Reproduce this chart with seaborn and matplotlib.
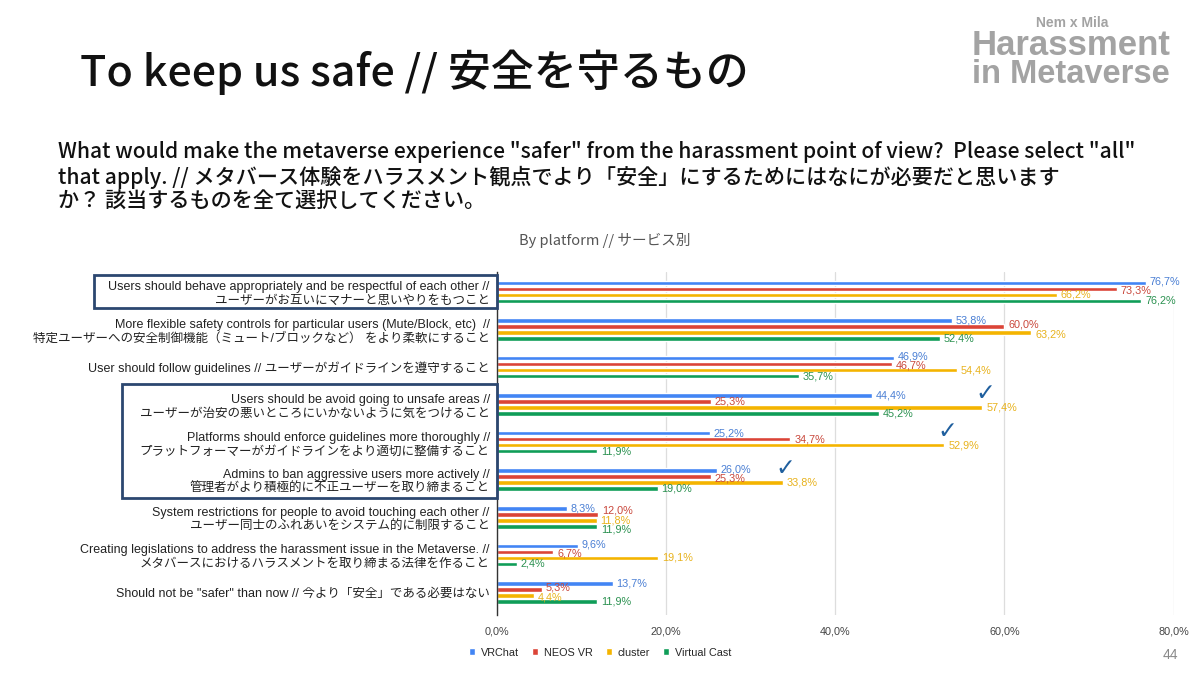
import numpy as np
import pandas as pd
import matplotlib.pyplot as plt
from matplotlib.patches import Rectangle
import seaborn as sns

# data
categories = [
    "Users should behave appropriately and be respectful of each other //\nユーザーがお互いにマナーと思いやりをもつこと",
    "More flexible safety controls for particular users (Mute/Block, etc)  //\n特定ユーザーへの安全制御機能（ミュート/ブロックなど） をより柔軟にすること",
    "User should follow guidelines // ユーザーがガイドラインを遵守すること",
    "Users should be avoid going to unsafe areas //\nユーザーが治安の悪いところにいかないように気をつけること",
    "Platforms should enforce guidelines more thoroughly //\nプラットフォーマーがガイドラインをより適切に整備すること",
    "Admins to ban aggressive users more actively //\n管理者がより積極的に不正ユーザーを取り締まること",
    "System restrictions for people to avoid touching each other //\nユーザー同士のふれあいをシステム的に制限すること",
    "Creating legislations to address the harassment issue in the Metaverse. //\nメタバースにおけるハラスメントを取り締まる法律を作ること",
    "Should not be \"safer\" than now // 今より「安全」である必要はない",
]
platforms = ["VRChat", "NEOS VR", "cluster", "Virtual Cast"]
vrchat = [76.7, 53.8, 46.9, 44.4, 25.2, 26.0, 8.3, 9.6, 13.7]
neos_vr = [73.3, 60.0, 46.7, 25.3, 34.7, 25.3, 12.0, 6.7, 5.3]
cluster = [66.2, 63.2, 54.4, 57.4, 52.9, 33.8, 11.8, 19.1, 4.4]
virtual_cast = [76.2, 52.4, 35.7, 45.2, 11.9, 19.0, 11.9, 2.4, 11.9]
checked = [3, 4, 5]  # rows marked with a tick next to the cluster bar
x_ticks = [0, 20, 40, 60, 80]

colors = ["#4285F4", "#DB4437", "#F4B400", "#0F9D58"]
label_colors = ["#4a7fd4", "#c9473b", "#e8b21c", "#2b9150"]

df = pd.DataFrame({
    "item": categories * 4,
    "platform": np.repeat(platforms, len(categories)),
    "value": vrchat + neos_vr + cluster + virtual_cast,
})

sns.set_theme(style="white")
plt.rcParams["font.family"] = ["Liberation Sans", "Noto Sans CJK JP", "DejaVu Sans"]

fig = plt.figure(figsize=(12, 6.75), dpi=100)
fig.patch.set_facecolor("white")
ax = fig.add_axes([0.414, 0.089, 0.564, 0.508])

sns.barplot(data=df, y="item", x="value", hue="platform", palette=colors,
            orient="h", width=0.64, gap=0.25, ax=ax, saturation=1)

# data labels, spread apart a little where they would collide (like Sheets does)
lab_w = 3.6    # approx label width in % units
min_sep = 0.25  # approx label height in category units
for i in range(len(categories)):
    items = []
    for j, cont in enumerate(ax.containers):
        b = cont[i]
        items.append([b.get_width(), b.get_y() + b.get_height() / 2, j])
    # group neighbours that overlap horizontally into chains
    chains = [[items[0]]]
    for it in items[1:]:
        prev = chains[-1][-1]
        if abs(it[0] - prev[0]) < lab_w:
            chains[-1].append(it)
        else:
            chains.append([it])
    for ch in chains:
        if len(ch) > 1:
            mean_y = np.mean([c[1] for c in ch])
            span = max(min_sep * (len(ch) - 1), ch[-1][1] - ch[0][1])
            step = span / (len(ch) - 1)
            for k, c in enumerate(ch):
                c[1] = mean_y - span / 2 + k * step
    for w, y, j in items:
        ax.text(w + 0.45, y, f"{w:.1f}%".replace(".", ","), color=label_colors[j],
                fontsize=7.8, ha="left", va="center")

# tick marks next to cluster bars
for i in checked:
    ax.text(cluster[i] + 0.3, i - 0.3, "✓", color="#1f5f9e", fontsize=17,
            fontweight="bold", family="DejaVu Sans", ha="center", va="center")

ax.set_xlim(0, 80)
ax.set_ylim(len(categories) - 0.4, -0.53)
ax.set_xticks(x_ticks)
ax.set_xticklabels([f"{t:.1f}%".replace(".", ",") for t in x_ticks], fontsize=7.8, color="#444444")
ax.tick_params(axis="y", labelsize=9.0, length=0, pad=5, labelcolor="#222222")
ax.tick_params(axis="x", length=0, pad=8)
for lab in ax.get_yticklabels():
    lab.set_linespacing(1.2)
ax.set_xlabel("")
ax.set_ylabel("")
ax.xaxis.grid(True, color="#dddddd", lw=0.9)
ax.set_axisbelow(True)
for s in ["top", "right", "bottom"]:
    ax.spines[s].set_visible(False)
ax.spines["left"].set_color("#333333")
ax.spines["left"].set_linewidth(1)

sns.move_legend(ax, "center", bbox_to_anchor=(0.5, 0.033), bbox_transform=fig.transFigure,
                ncol=4, frameon=False, title=None, fontsize=7.8, handlelength=0.6,
                handleheight=0.6, columnspacing=1.2, handletextpad=0.5)

# boxes around highlighted labels
fig.patches.append(Rectangle((94 / 1200, 1 - 308 / 675), 403 / 1200, 33 / 675,
                             transform=fig.transFigure, fill=False, edgecolor="#2c4770", lw=2))
fig.patches.append(Rectangle((122 / 1200, 1 - 498 / 675), 375 / 1200, 114 / 675,
                             transform=fig.transFigure, fill=False, edgecolor="#2c4770", lw=2))

# titles
jp = ["Noto Sans CJK JP", "DejaVu Sans"]
fig.text(80 / 1200, 1 - 72 / 675, "To keep us safe // 安全を守るもの", fontsize=31,
         family=jp, fontweight="medium", va="center", color="#111111")
fig.text(58 / 1200, 1 - 177 / 675,
         "What would make the metaverse experience \"safer\" from the harassment point of view?  Please select \"all\"\n"
         "that apply. // メタバース体験をハラスメント観点でより「安全」にするためにはなにが必要だと思います\n"
         "か？ 該当するものを全て選択してください。",
         fontsize=15.2, family=jp, fontweight="medium", va="center", linespacing=1.12, color="#111111")
fig.text(605 / 1200, 1 - 240 / 675, "By platform // サービス別", fontsize=10.5, family=jp,
         ha="center", va="center", color="#555555")
fig.text(1170 / 1200, 1 - 655 / 675, "44", fontsize=10, ha="center", va="center", color="#888888")

# logo
fig.text(1072 / 1200, 1 - 27 / 675, "Nem x Mila", fontsize=10, fontweight="bold",
         ha="center", va="baseline", color="#a3a3a3")
fig.text(972 / 1200, 1 - 55 / 675, "Harassment", fontsize=25, fontweight="bold",
         ha="left", va="baseline", color="#a3a3a3")
fig.text(972 / 1200, 1 - 83 / 675, "in Metaverse", fontsize=23.5, fontweight="bold",
         ha="left", va="baseline", color="#a3a3a3")

fig.savefig("out.png", dpi=100)
